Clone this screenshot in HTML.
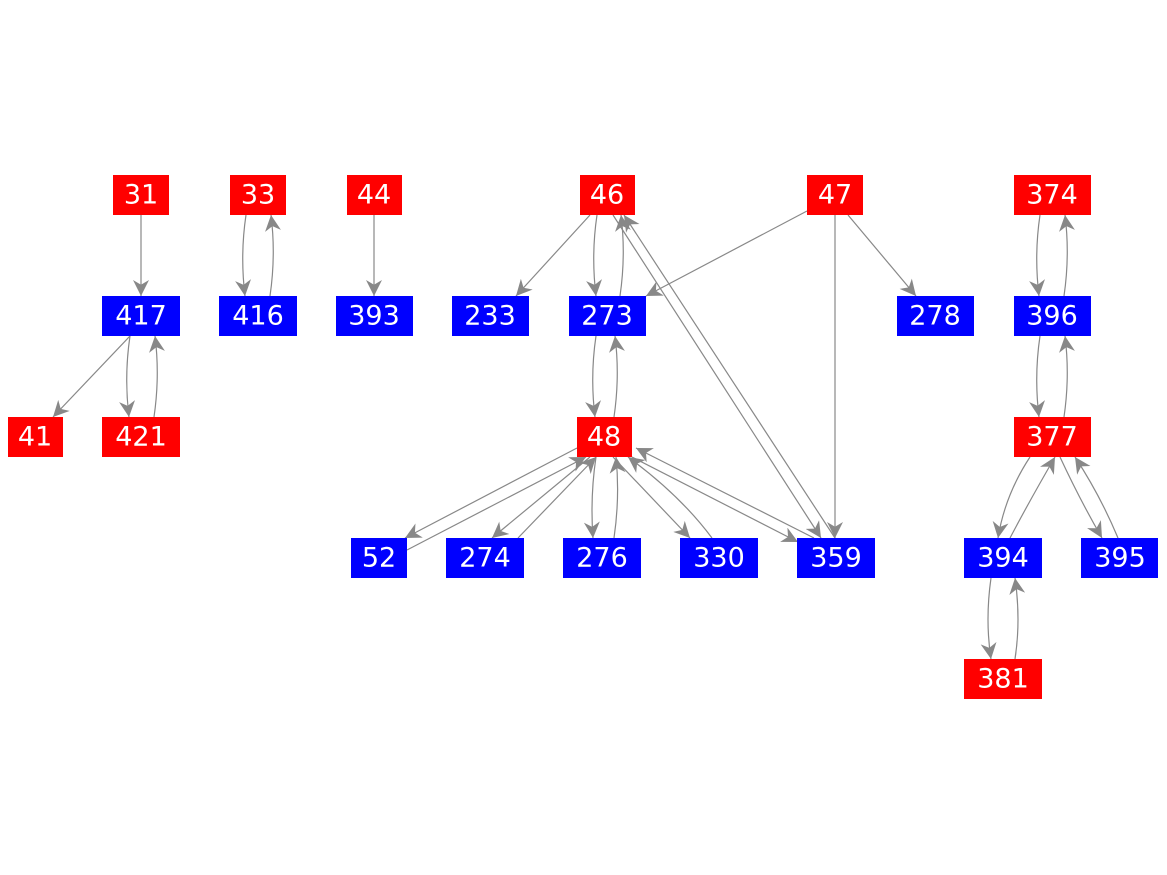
<!DOCTYPE html>
<html><head><meta charset="utf-8"><style>
html,body{margin:0;padding:0;background:#fff;}
svg{display:block}
text{font-family:"DejaVu Sans","Liberation Sans",sans-serif;font-size:27px;fill:#fff;text-anchor:middle;dominant-baseline:central}
path{fill:none;stroke:#888;stroke-width:1.2}
</style></head><body>
<svg width="1167" height="875" viewBox="0 0 1167 875" xmlns="http://www.w3.org/2000/svg">
<defs><marker id="a" viewBox="0 0 10 10" refX="10" refY="5" markerWidth="16" markerHeight="16" markerUnits="userSpaceOnUse" orient="auto"><path d="M0,0 L10,5 L0,10 L3,5 z" style="fill:#888;stroke:none"/></marker></defs>
<g marker-end="url(#a)">
<path d="M141,215 L141,296"/>
<path d="M246,215 Q240,255 245,296"/>
<path d="M270,296 Q276,255 271,215"/>
<path d="M374,215 L374,296"/>
<path d="M130,336 L53,417"/>
<path d="M130,336 Q124,376 129,417"/>
<path d="M154,417 Q160,376 155,336"/>
<path d="M590,215 L516,296"/>
<path d="M597,215 Q591,255 596,296"/>
<path d="M620,296 Q626,255 621,215"/>
<path d="M613,215 L821,538"/>
<path d="M835,538 L624,215"/>
<path d="M807,211 L646,296"/>
<path d="M835,215 L835,538"/>
<path d="M848,215 L916,296"/>
<path d="M596,336 Q590,376 595,417"/>
<path d="M614,417 Q620,376 615,336"/>
<path d="M1040,215 Q1034,255 1039,296"/>
<path d="M1064,296 Q1070,255 1065,215"/>
<path d="M1040,336 Q1034,376 1039,417"/>
<path d="M1064,417 Q1070,376 1065,336"/>
<path d="M577,448 L405,538"/>
<path d="M407,550 L586,457"/>
<path d="M590,457 L492,538"/>
<path d="M518,538 L596,457"/>
<path d="M596,457 Q590,497 593,538"/>
<path d="M614,538 Q620,497 616,457"/>
<path d="M613,457 L690,538"/>
<path d="M712,538 Q680,495 628,457"/>
<path d="M632,457 L798,542"/>
<path d="M814,538 L636,448"/>
<path d="M1030,457 Q1005,495 998,538"/>
<path d="M1010,538 Q1030,500 1055,457"/>
<path d="M1060,457 Q1080,500 1102,538"/>
<path d="M1118,538 Q1100,495 1075,457"/>
<path d="M991,578 Q985,620 991,659"/>
<path d="M1015,659 Q1021,620 1015,578"/>
</g>
<g>
<rect x="113" y="175" width="56" height="40" fill="#f00"/><text x="141" y="195">31</text>
<rect x="230" y="175" width="56" height="40" fill="#f00"/><text x="258" y="195">33</text>
<rect x="347" y="175" width="55" height="40" fill="#f00"/><text x="374" y="195">44</text>
<rect x="580" y="175" width="55" height="40" fill="#f00"/><text x="607" y="195">46</text>
<rect x="807" y="175" width="56" height="40" fill="#f00"/><text x="835" y="195">47</text>
<rect x="1014" y="175" width="77" height="40" fill="#f00"/><text x="1052" y="195">374</text>
<rect x="102" y="296" width="78" height="40" fill="#00f"/><text x="141" y="316">417</text>
<rect x="219" y="296" width="78" height="40" fill="#00f"/><text x="258" y="316">416</text>
<rect x="336" y="296" width="77" height="40" fill="#00f"/><text x="374" y="316">393</text>
<rect x="452" y="296" width="77" height="40" fill="#00f"/><text x="490" y="316">233</text>
<rect x="569" y="296" width="77" height="40" fill="#00f"/><text x="607" y="316">273</text>
<rect x="897" y="296" width="77" height="40" fill="#00f"/><text x="935" y="316">278</text>
<rect x="1014" y="296" width="77" height="40" fill="#00f"/><text x="1052" y="316">396</text>
<rect x="8" y="417" width="55" height="40" fill="#f00"/><text x="35" y="437">41</text>
<rect x="102" y="417" width="78" height="40" fill="#f00"/><text x="141" y="437">421</text>
<rect x="577" y="417" width="55" height="40" fill="#f00"/><text x="604" y="437">48</text>
<rect x="1014" y="417" width="77" height="40" fill="#f00"/><text x="1052" y="437">377</text>
<rect x="351" y="538" width="56" height="40" fill="#00f"/><text x="379" y="558">52</text>
<rect x="446" y="538" width="78" height="40" fill="#00f"/><text x="485" y="558">274</text>
<rect x="563" y="538" width="78" height="40" fill="#00f"/><text x="602" y="558">276</text>
<rect x="680" y="538" width="78" height="40" fill="#00f"/><text x="719" y="558">330</text>
<rect x="797" y="538" width="78" height="40" fill="#00f"/><text x="836" y="558">359</text>
<rect x="964" y="538" width="78" height="40" fill="#00f"/><text x="1003" y="558">394</text>
<rect x="1081" y="538" width="77" height="40" fill="#00f"/><text x="1120" y="558">395</text>
<rect x="964" y="659" width="78" height="40" fill="#f00"/><text x="1003" y="679">381</text>
</g>
</svg>
</body></html>
